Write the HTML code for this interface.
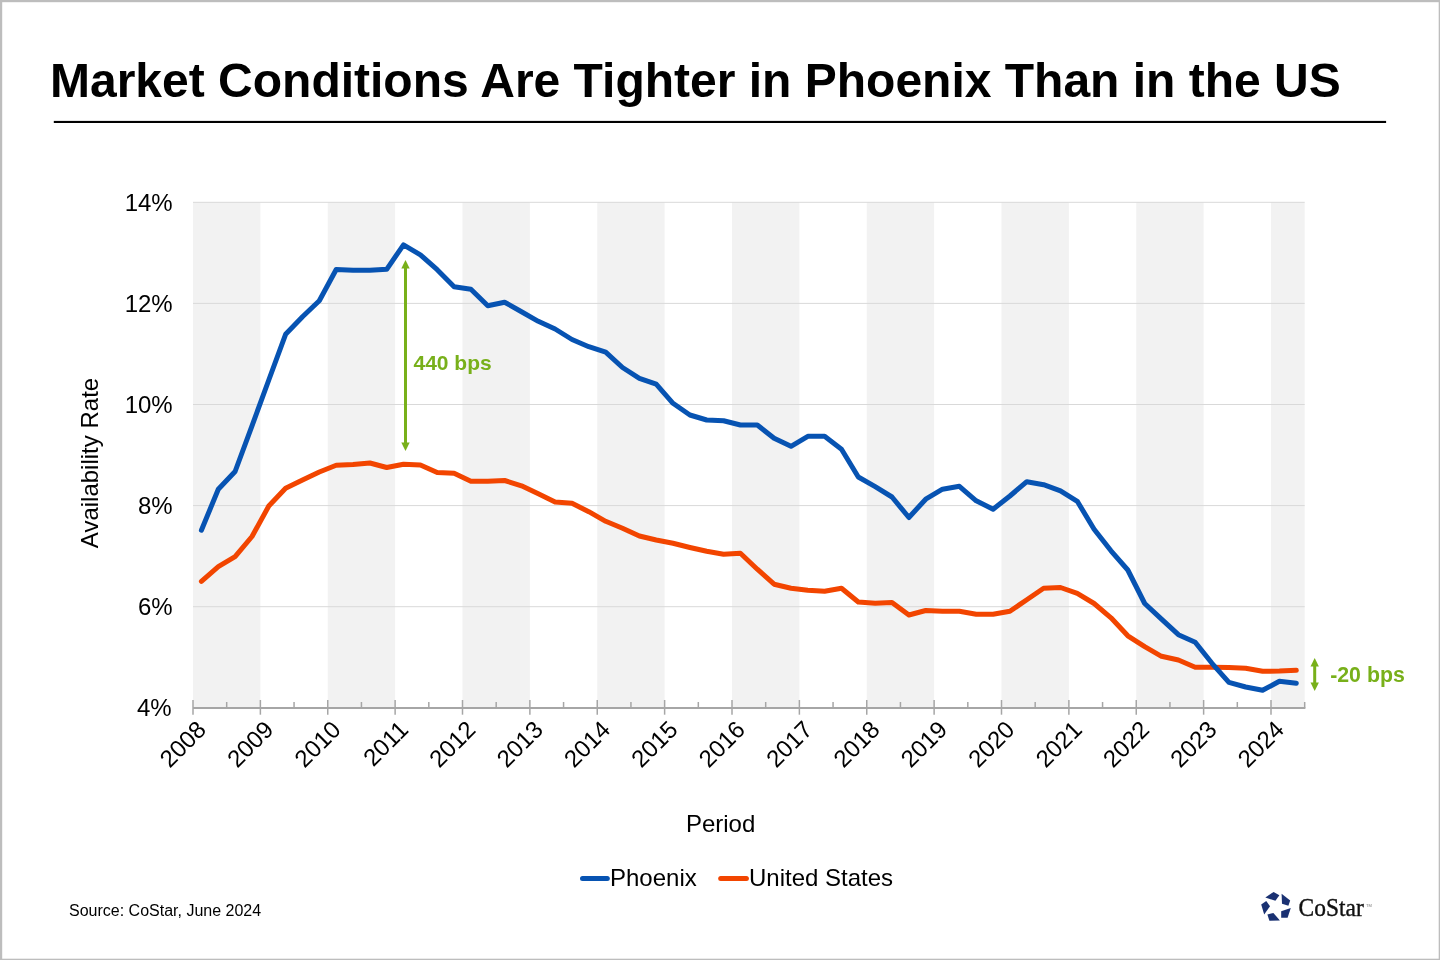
<!DOCTYPE html>
<html><head><meta charset="utf-8"><title>Market Conditions</title>
<style>
html,body{margin:0;padding:0;background:#fff;}
body{width:1440px;height:960px;overflow:hidden;position:relative;font-family:"Liberation Sans",sans-serif;}
svg{position:absolute;left:0;top:0;will-change:transform;}
.lab{font-family:"Liberation Sans",sans-serif;font-size:24px;fill:#000;}
.ttl{font-family:"Liberation Sans",sans-serif;font-size:48px;font-weight:bold;fill:#000;}
.grn{font-family:"Liberation Sans",sans-serif;font-size:21px;font-weight:bold;fill:#78b01a;}
.src{font-family:"Liberation Sans",sans-serif;font-size:16px;fill:#000;}
.logo{font-family:"Liberation Serif",serif;font-size:23px;fill:#111;}
</style></head>
<body>
<svg width="1440" height="960" viewBox="0 0 1440 960">
<rect x="0" y="0" width="1440" height="960" fill="#bdbdbd"/>
<rect x="2.2" y="2.2" width="1436.5" height="956.5" fill="#fff"/>
<text x="50" y="97" class="ttl">Market Conditions Are Tighter in Phoenix Than in the US</text>
<rect x="53.8" y="120.9" width="1332.3" height="2.1" fill="#000"/>
<rect x="193.00" y="202.3" width="67.38" height="505.5" fill="#f2f2f2"/>
<rect x="327.75" y="202.3" width="67.38" height="505.5" fill="#f2f2f2"/>
<rect x="462.50" y="202.3" width="67.38" height="505.5" fill="#f2f2f2"/>
<rect x="597.25" y="202.3" width="67.38" height="505.5" fill="#f2f2f2"/>
<rect x="732.00" y="202.3" width="67.38" height="505.5" fill="#f2f2f2"/>
<rect x="866.75" y="202.3" width="67.38" height="505.5" fill="#f2f2f2"/>
<rect x="1001.50" y="202.3" width="67.38" height="505.5" fill="#f2f2f2"/>
<rect x="1136.25" y="202.3" width="67.38" height="505.5" fill="#f2f2f2"/>
<rect x="1271.00" y="202.3" width="33.69" height="505.5" fill="#f2f2f2"/>
<line x1="193.0" x2="1304.7" y1="606.70" y2="606.70" stroke="#d9d9d9" stroke-width="1"/>
<line x1="193.0" x2="1304.7" y1="505.60" y2="505.60" stroke="#d9d9d9" stroke-width="1"/>
<line x1="193.0" x2="1304.7" y1="404.50" y2="404.50" stroke="#d9d9d9" stroke-width="1"/>
<line x1="193.0" x2="1304.7" y1="303.40" y2="303.40" stroke="#d9d9d9" stroke-width="1"/>
<line x1="193.0" x2="1304.7" y1="202.30" y2="202.30" stroke="#d9d9d9" stroke-width="1"/>
<text x="171.7" y="716.1" text-anchor="end" class="lab">4%</text>
<text x="172.7" y="615.0" text-anchor="end" class="lab">6%</text>
<text x="172.7" y="513.9" text-anchor="end" class="lab">8%</text>
<text x="172.7" y="412.8" text-anchor="end" class="lab">10%</text>
<text x="172.7" y="311.7" text-anchor="end" class="lab">12%</text>
<text x="172.7" y="210.6" text-anchor="end" class="lab">14%</text>
<line x1="193.0" x2="1305.4" y1="708.0" y2="708.0" stroke="#a6a6a6" stroke-width="1.8"/>
<line x1="193.00" x2="193.00" y1="700" y2="714.7" stroke="#a6a6a6" stroke-width="1.5"/>
<line x1="260.38" x2="260.38" y1="700" y2="714.7" stroke="#a6a6a6" stroke-width="1.5"/>
<line x1="327.75" x2="327.75" y1="700" y2="714.7" stroke="#a6a6a6" stroke-width="1.5"/>
<line x1="395.12" x2="395.12" y1="700" y2="714.7" stroke="#a6a6a6" stroke-width="1.5"/>
<line x1="462.50" x2="462.50" y1="700" y2="714.7" stroke="#a6a6a6" stroke-width="1.5"/>
<line x1="529.88" x2="529.88" y1="700" y2="714.7" stroke="#a6a6a6" stroke-width="1.5"/>
<line x1="597.25" x2="597.25" y1="700" y2="714.7" stroke="#a6a6a6" stroke-width="1.5"/>
<line x1="664.62" x2="664.62" y1="700" y2="714.7" stroke="#a6a6a6" stroke-width="1.5"/>
<line x1="732.00" x2="732.00" y1="700" y2="714.7" stroke="#a6a6a6" stroke-width="1.5"/>
<line x1="799.38" x2="799.38" y1="700" y2="714.7" stroke="#a6a6a6" stroke-width="1.5"/>
<line x1="866.75" x2="866.75" y1="700" y2="714.7" stroke="#a6a6a6" stroke-width="1.5"/>
<line x1="934.12" x2="934.12" y1="700" y2="714.7" stroke="#a6a6a6" stroke-width="1.5"/>
<line x1="1001.50" x2="1001.50" y1="700" y2="714.7" stroke="#a6a6a6" stroke-width="1.5"/>
<line x1="1068.88" x2="1068.88" y1="700" y2="714.7" stroke="#a6a6a6" stroke-width="1.5"/>
<line x1="1136.25" x2="1136.25" y1="700" y2="714.7" stroke="#a6a6a6" stroke-width="1.5"/>
<line x1="1203.62" x2="1203.62" y1="700" y2="714.7" stroke="#a6a6a6" stroke-width="1.5"/>
<line x1="1271.00" x2="1271.00" y1="700" y2="714.7" stroke="#a6a6a6" stroke-width="1.5"/>
<line x1="226.69" x2="226.69" y1="702" y2="707.8" stroke="#a6a6a6" stroke-width="1.5"/>
<line x1="294.06" x2="294.06" y1="702" y2="707.8" stroke="#a6a6a6" stroke-width="1.5"/>
<line x1="361.44" x2="361.44" y1="702" y2="707.8" stroke="#a6a6a6" stroke-width="1.5"/>
<line x1="428.81" x2="428.81" y1="702" y2="707.8" stroke="#a6a6a6" stroke-width="1.5"/>
<line x1="496.19" x2="496.19" y1="702" y2="707.8" stroke="#a6a6a6" stroke-width="1.5"/>
<line x1="563.56" x2="563.56" y1="702" y2="707.8" stroke="#a6a6a6" stroke-width="1.5"/>
<line x1="630.94" x2="630.94" y1="702" y2="707.8" stroke="#a6a6a6" stroke-width="1.5"/>
<line x1="698.31" x2="698.31" y1="702" y2="707.8" stroke="#a6a6a6" stroke-width="1.5"/>
<line x1="765.69" x2="765.69" y1="702" y2="707.8" stroke="#a6a6a6" stroke-width="1.5"/>
<line x1="833.06" x2="833.06" y1="702" y2="707.8" stroke="#a6a6a6" stroke-width="1.5"/>
<line x1="900.44" x2="900.44" y1="702" y2="707.8" stroke="#a6a6a6" stroke-width="1.5"/>
<line x1="967.81" x2="967.81" y1="702" y2="707.8" stroke="#a6a6a6" stroke-width="1.5"/>
<line x1="1035.19" x2="1035.19" y1="702" y2="707.8" stroke="#a6a6a6" stroke-width="1.5"/>
<line x1="1102.56" x2="1102.56" y1="702" y2="707.8" stroke="#a6a6a6" stroke-width="1.5"/>
<line x1="1169.94" x2="1169.94" y1="702" y2="707.8" stroke="#a6a6a6" stroke-width="1.5"/>
<line x1="1237.31" x2="1237.31" y1="702" y2="707.8" stroke="#a6a6a6" stroke-width="1.5"/>
<line x1="1304.69" x2="1304.69" y1="702" y2="707.8" stroke="#a6a6a6" stroke-width="1.5"/>
<text x="201.50" y="725.0" text-anchor="end" class="lab" transform="rotate(-45 201.50 725.0)" dominant-baseline="central">2008</text>
<text x="268.88" y="725.0" text-anchor="end" class="lab" transform="rotate(-45 268.88 725.0)" dominant-baseline="central">2009</text>
<text x="336.25" y="725.0" text-anchor="end" class="lab" transform="rotate(-45 336.25 725.0)" dominant-baseline="central">2010</text>
<text x="403.62" y="725.0" text-anchor="end" class="lab" transform="rotate(-45 403.62 725.0)" dominant-baseline="central">2011</text>
<text x="471.00" y="725.0" text-anchor="end" class="lab" transform="rotate(-45 471.00 725.0)" dominant-baseline="central">2012</text>
<text x="538.38" y="725.0" text-anchor="end" class="lab" transform="rotate(-45 538.38 725.0)" dominant-baseline="central">2013</text>
<text x="605.75" y="725.0" text-anchor="end" class="lab" transform="rotate(-45 605.75 725.0)" dominant-baseline="central">2014</text>
<text x="673.12" y="725.0" text-anchor="end" class="lab" transform="rotate(-45 673.12 725.0)" dominant-baseline="central">2015</text>
<text x="740.50" y="725.0" text-anchor="end" class="lab" transform="rotate(-45 740.50 725.0)" dominant-baseline="central">2016</text>
<text x="807.88" y="725.0" text-anchor="end" class="lab" transform="rotate(-45 807.88 725.0)" dominant-baseline="central">2017</text>
<text x="875.25" y="725.0" text-anchor="end" class="lab" transform="rotate(-45 875.25 725.0)" dominant-baseline="central">2018</text>
<text x="942.62" y="725.0" text-anchor="end" class="lab" transform="rotate(-45 942.62 725.0)" dominant-baseline="central">2019</text>
<text x="1010.00" y="725.0" text-anchor="end" class="lab" transform="rotate(-45 1010.00 725.0)" dominant-baseline="central">2020</text>
<text x="1077.38" y="725.0" text-anchor="end" class="lab" transform="rotate(-45 1077.38 725.0)" dominant-baseline="central">2021</text>
<text x="1144.75" y="725.0" text-anchor="end" class="lab" transform="rotate(-45 1144.75 725.0)" dominant-baseline="central">2022</text>
<text x="1212.12" y="725.0" text-anchor="end" class="lab" transform="rotate(-45 1212.12 725.0)" dominant-baseline="central">2023</text>
<text x="1279.50" y="725.0" text-anchor="end" class="lab" transform="rotate(-45 1279.50 725.0)" dominant-baseline="central">2024</text>
<polyline points="201.4,581.3 218.3,566.7 235.1,556.7 252.0,536.5 268.8,506.0 285.6,488.3 302.5,480.0 319.3,472.0 336.2,465.3 353.0,464.5 369.9,463.0 386.7,467.5 403.5,464.2 420.4,465.0 437.2,472.5 454.1,473.3 470.9,481.2 487.8,481.2 504.6,480.5 521.5,485.8 538.3,493.7 555.1,502.0 572.0,503.3 588.8,511.7 605.7,521.3 622.5,528.3 639.4,536.0 656.2,540.0 673.0,543.3 689.9,547.5 706.7,551.3 723.6,554.2 740.4,553.3 757.3,569.2 774.1,584.2 791.0,588.2 807.8,590.3 824.6,591.3 841.5,588.3 858.3,602.0 875.2,603.3 892.0,602.5 908.9,615.0 925.7,610.5 942.5,611.3 959.4,611.3 976.2,614.2 993.1,614.2 1009.9,611.3 1026.8,599.7 1043.6,588.3 1060.5,587.5 1077.3,593.3 1094.1,603.5 1111.0,617.8 1127.8,635.8 1144.7,646.7 1161.5,656.3 1178.4,660.0 1195.2,667.3 1212.0,667.3 1228.9,667.5 1245.7,668.3 1262.6,671.3 1279.4,671.0 1296.3,670.3" fill="none" stroke="#f24500" stroke-width="5" stroke-linejoin="round" stroke-linecap="round"/>
<polyline points="201.4,530.2 218.3,489.3 235.1,471.5 252.0,425.8 268.8,380.0 285.6,334.3 302.5,316.7 319.3,300.8 336.2,269.5 353.0,270.3 369.9,270.3 386.7,269.3 403.5,244.8 420.4,254.8 437.2,269.7 454.1,286.7 470.9,289.2 487.8,305.8 504.6,302.2 521.5,311.7 538.3,321.3 555.1,329.0 572.0,339.5 588.8,346.7 605.7,352.2 622.5,367.5 639.4,378.3 656.2,384.2 673.0,403.3 689.9,415.0 706.7,420.0 723.6,420.8 740.4,425.0 757.3,425.0 774.1,438.3 791.0,446.3 807.8,436.3 824.6,436.3 841.5,449.2 858.3,477.0 875.2,486.7 892.0,497.0 908.9,517.5 925.7,499.2 942.5,489.2 959.4,486.3 976.2,500.8 993.1,509.2 1009.9,496.0 1026.8,481.7 1043.6,484.7 1060.5,490.8 1077.3,501.3 1094.1,529.2 1111.0,550.8 1127.8,570.0 1144.7,603.5 1161.5,619.2 1178.4,634.7 1195.2,642.2 1212.0,663.3 1228.9,682.3 1245.7,687.0 1262.6,690.3 1279.4,681.3 1296.3,683.3" fill="none" stroke="#0753b2" stroke-width="5" stroke-linejoin="round" stroke-linecap="round"/>
<!-- annotation 440 -->
<line x1="405.5" x2="405.5" y1="266" y2="445" stroke="#78b01a" stroke-width="3"/>
<path d="M405.5 260 L409.7 268.5 L401.3 268.5 Z" fill="#78b01a"/>
<path d="M405.5 451 L409.7 442.5 L401.3 442.5 Z" fill="#78b01a"/>
<text x="413.5" y="369.7" class="grn">440 bps</text>
<!-- annotation -20 -->
<line x1="1314.7" x2="1314.7" y1="664" y2="685" stroke="#78b01a" stroke-width="3"/>
<path d="M1314.7 658 L1318.9 666.5 L1310.5 666.5 Z" fill="#78b01a"/>
<path d="M1314.7 691 L1318.9 682.5 L1310.5 682.5 Z" fill="#78b01a"/>
<text x="1330.2" y="682" class="grn" style="font-size:21.3px">-20 bps</text>
<!-- axis titles -->
<text x="0" y="0" class="lab" text-anchor="middle" transform="translate(98.0 463) rotate(-90)">Availability Rate</text>
<text x="720.6" y="831.8" class="lab" text-anchor="middle">Period</text>
<!-- legend -->
<line x1="582.5" x2="607.3" y1="878.4" y2="878.4" stroke="#0753b2" stroke-width="5" stroke-linecap="round"/>
<text x="610" y="885.8" class="lab">Phoenix</text>
<line x1="720.7" x2="746.4" y1="878.5" y2="878.5" stroke="#f24500" stroke-width="5" stroke-linecap="round"/>
<text x="749" y="885.7" class="lab">United States</text>
<!-- source -->
<text x="69" y="915.9" class="src">Source: CoStar, June 2024</text>
<!-- logo -->
<g fill="#1a3172">
<path d="M1265.3 897.6 L1273.6 891.9 L1279.4 895.3 L1275.4 900.7 Z"/>
<path d="M1281.6 893.8 L1290.2 900.4 L1288.4 905.8 L1282 903.75 Z"/>
<path d="M1281.2 911.25 L1290.8 908.1 L1287.6 917.8 L1281.2 917.8 Z"/>
<path d="M1267.4 914.6 L1273.4 912.9 L1279.9 920.6 L1269.4 920.8 Z"/>
<path d="M1261.2 904.5 L1266.25 900.9 L1270 906.2 L1264.2 914.6 Z"/>
</g>
<text x="0" y="0" class="logo" transform="translate(1298.6 915.9) scale(1.02 1.06)" stroke="#111" stroke-width="0.35">CoStar</text>
<text x="1366.1" y="907.2" style="font-family:'Liberation Sans',sans-serif;font-size:4px;fill:#777">TM</text>
</svg>
</body></html>
